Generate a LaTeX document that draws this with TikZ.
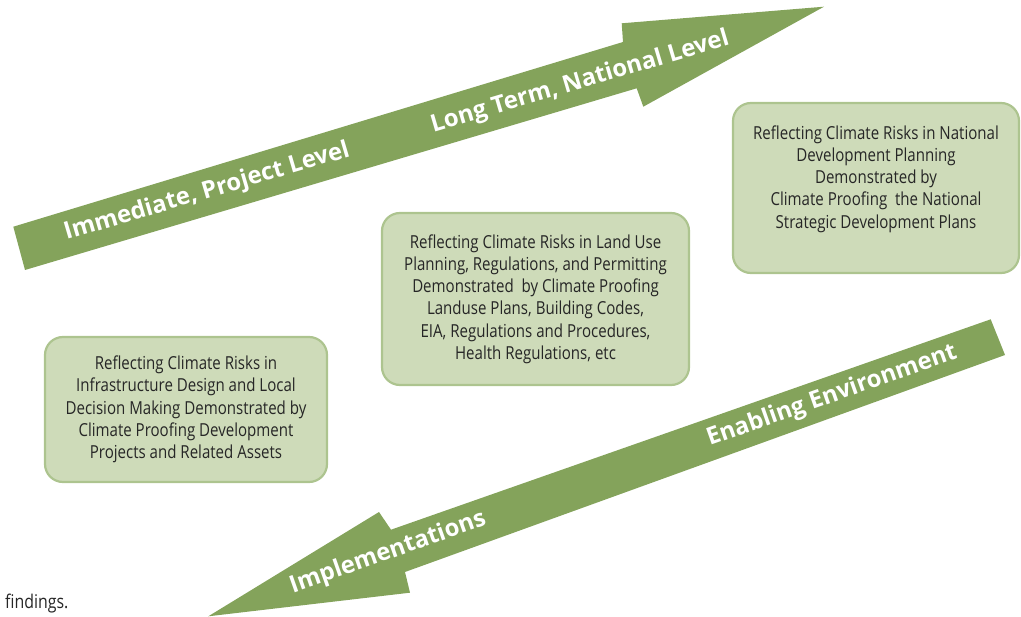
\documentclass[tikz,border=0pt]{standalone}
\usepackage{fontspec}
\setmainfont{Open Sans}
\newfontfamily\boxfont{Open Sans}[FakeStretch=0.84]
\definecolor{arrowgreen}{HTML}{84A35B}
\definecolor{boxfill}{HTML}{CEDBB9}
\definecolor{boxborder}{HTML}{ADC48F}
\definecolor{textgray}{HTML}{262626}
\begin{document}
\begin{tikzpicture}[x=1bp,y=-1bp,
  arrowfill/.style={fill=arrowgreen},
  arrowtext/.style={text=white,font=\fontsize{24}{29}\selectfont\bfseries,inner sep=0pt},
  infobox/.style={draw=boxborder,fill=boxfill,line width=2.2bp,rounded corners=18bp,text=textgray,align=center,font=\boxfont\fontsize{18}{22.3}\selectfont,inner sep=0pt},
  plaintext/.style={text=textgray,font=\boxfont\fontsize{19}{21}\selectfont,inner sep=0pt}]
\useasboundingbox (0,0) rectangle (1021,617);
% upper arrow
\fill[arrowfill] (13.3,226.7) -- (623,42) -- (621.7,23.3) -- (824,6.7) -- (643.3,106.7) -- (636.7,88.3) -- (25,270) -- cycle;
% lower arrow
\fill[arrowfill] (990.7,319.3) -- (391,529.7) -- (379,512) -- (208.3,616.3) -- (410,592.7) -- (405,572) -- (1005,355) -- cycle;
\node[arrowtext,rotate=16.47] (t1) at (207,192) {Immediate, Project Level};
\node[arrowtext,rotate=16.47] (t2) at (580,82.5) {Long Term, National Level};
\node[arrowtext,rotate=19.47] (t3) at (832,396) {Enabling Environment};
\node[arrowtext,rotate=19.47] (t4) at (388,553) {Implementations};
\node[infobox,minimum width=282bp,minimum height=145bp] (b1) at (186,409.5) {Reflecting Climate Risks in\\Infrastructure Design and Local\\Decision Making Demonstrated by\\Climate Proofing Development\\Projects and Related Assets};
\node[infobox,minimum width=307bp,minimum height=172bp] (b2) at (535.5,299) {Reflecting Climate Risks in Land Use\\Planning, Regulations, and Permitting\\Demonstrated\ \ by Climate Proofing\\Landuse Plans, Building Codes,\\EIA, Regulations and Procedures,\\Health Regulations, etc};
\node[infobox,minimum width=286bp,minimum height=170bp] (b3) at (876,188) {Reflecting Climate Risks in National\\Development Planning\\Demonstrated by\\Climate Proofing\ \ the National\\Strategic Development Plans\\\mbox{}};
\node[plaintext,anchor=west] (f) at (5,604) {findings.};
\end{tikzpicture}
\end{document}
